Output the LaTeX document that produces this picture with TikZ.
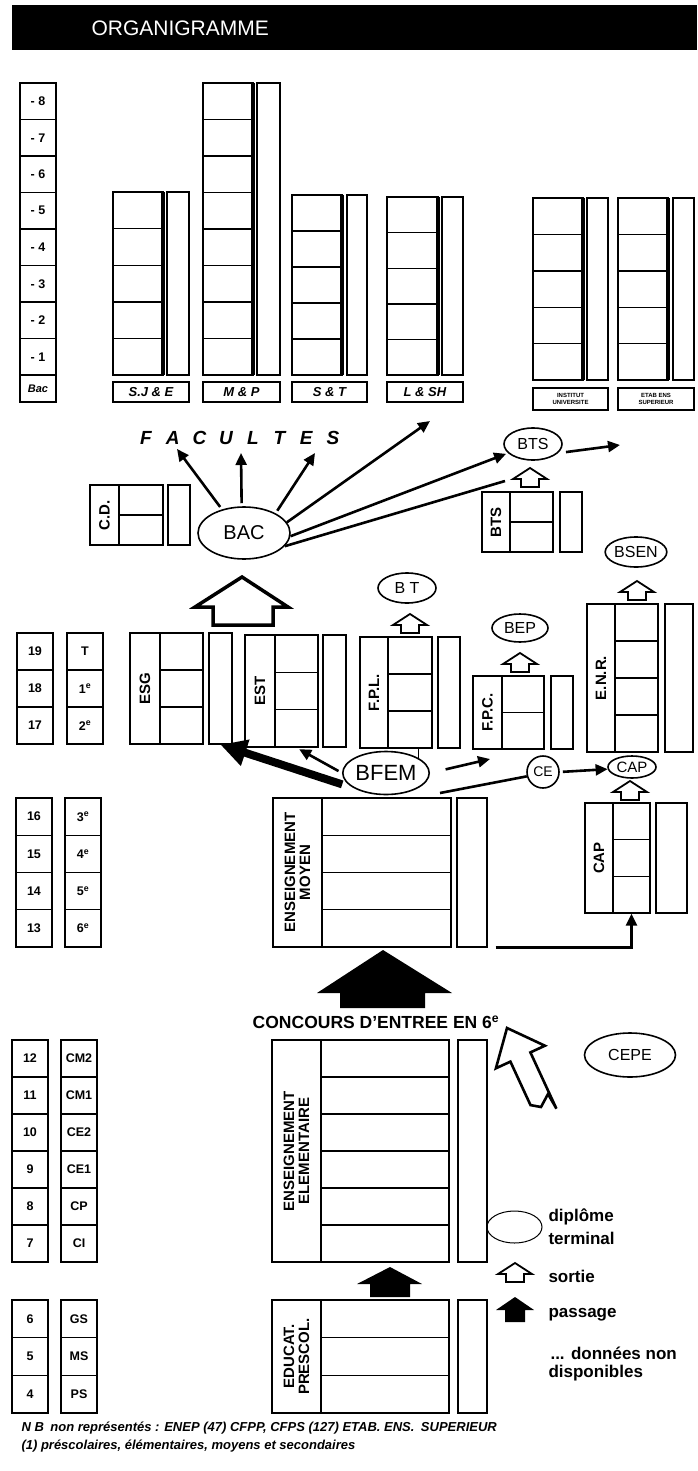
\documentclass[tikz,border=0pt]{standalone}
\usepackage{fontspec}
\setmainfont{Liberation Sans}
\usetikzlibrary{positioning,arrows.meta,shapes.geometric,fit}

\tikzset{
  box/.style={draw, line width=1.4pt, inner sep=0pt},
  dipl/.style={draw, ellipse, line width=1.6pt, inner sep=0pt},
  lab/.style={rotate=90, align=center, font=\bfseries\fontsize{15}{15}\selectfont},
  num/.style={font=\bfseries\fontsize{12.5}{12.5}\selectfont},
  arr/.style={line width=2.6pt, -{Triangle[length=12pt,width=11pt]}},
  sortie/.style={line width=1.8pt, fill=white},
  legend/.style={anchor=west, font=\bfseries\fontsize{17}{17}\selectfont},
}

\begin{document}
\begin{tikzpicture}[x=1pt,y=-1pt]
\useasboundingbox (0,0) rectangle (697,1471);

% Title bar
\fill (12,5) rectangle (697,50);
\node[anchor=west, text=white, font=\fontsize{21}{21}\selectfont] (title) at (88,28) {ORGANIGRAMME};

% Year columns on the left
\foreach \nm/\cx/\top/\h/\labs in {
    sup/38/83/36.5/{- 8,- 7,- 6,- 5,- 4,- 3,- 2,- 1},
    ly/35/633/37/{19,18,17},
    lc/85/633/37/{T,1\textsuperscript{e},2\textsuperscript{e}},
    my/34/798/37.25/{16,15,14,13},
    mc/83/798/37.25/{3\textsuperscript{e},4\textsuperscript{e},5\textsuperscript{e},6\textsuperscript{e}},
    ey/30/1040/37/{12,11,10,9,8,7},
    ec/79/1040/37/{CM2,CM1,CE2,CE1,CP,CI},
    py/30/1300/37.7/{6,5,4},
    pc/79/1300/37.7/{GS,MS,PS}}
  \foreach \t [count=\i] in \labs
    \node[box, num, minimum width=36pt, minimum height=\h pt] (\nm\i) at (\cx,{\top+(\i-0.5)*\h}) {\t};
\node[box, font=\bfseries\itshape\fontsize{11}{11}\selectfont, minimum width=36pt, minimum height=27pt] (supbac) at (38,388.5) {Bac};

% Faculties
\foreach \nm/\xa/\xb/\xc/\xd/\ya/\n/\txt in {sje/113/163/167/189/192/5/S.J \& E, mp/203/253/257/280/83/8/M \& P,
    st/292/342/347/367/195/5/S \& T, lsh/387/438/442/463/197/5/L \& SH} {
  \node[box, fit={(\xa,\ya) (\xb,375)}] (\nm) {};
  \node[box, fit={(\xc,\ya) (\xd,375)}] (\nm bar) {};
  \draw[line width=3.5pt] (\xb,\ya) -- (\xb,375);
  \foreach \k in {1,...,\n}
    \draw[line width=1.4pt] (\xa,{\ya+\k*(375-\ya)/\n}) -- (\xb,{\ya+\k*(375-\ya)/\n});
  \node[box, fit={(\xa,382) (\xd,402)}] (\nm lab) {};
  \node[font=\bfseries\itshape\fontsize{13}{13}\selectfont] (\nm txt) at (\nm lab) {\txt};
}
\foreach \nm/\xa/\xb/\xc/\xd/\txt in {iu/533/583/587/608/{INSTITUT\\UNIVERSITE}, ees/618/668/673/694/{ETAB ENS\\SUPERIEUR}} {
  \node[box, fit={(\xa,198) (\xb,380)}] (\nm) {};
  \node[box, fit={(\xc,198) (\xd,380)}] (\nm bar) {};
  \draw[line width=3.5pt] (\xb,198) -- (\xb,380);
  \foreach \k in {1,...,5}
    \draw[line width=1.4pt] (\xa,{198+\k*182/5}) -- (\xb,{198+\k*182/5});
  \node[box, fit={(\xa,388) (\xd,410)}] (\nm lab) {};
  \node[align=center, font=\bfseries\fontsize{6}{7}\selectfont] (\nm txt) at (\nm lab) {\txt};
}
\foreach \l [count=\i] in {F,A,C,U,L,T,E,S}
  \node[font=\bfseries\itshape\fontsize{19}{19}\selectfont] (fac\i) at ({146+(\i-1)*26.7},438) {\l};

% Blocks with a side label
\foreach \nm/\xl/\xa/\xb/\xc/\xd/\ya/\yb/\n/\txt in {
    cd/90/119/163/168/190/485/545/2/C.D.,
    btsb/482/510/553/560/582/492/552/2/BTS,
    esg/130/160/203/209/232/633/744/3/ESG,
    est/245/275/318/323/346/635/747/3/EST,
    fpl/360/388/432/438/460/637/748/3/F.P.L.,
    fpc/473/502/544/551/573/676/749/2/F.P.C.,
    enr/587/615/658/665/693/604/752/4/E.N.R.,
    capb/585/613/650/656/687/803/913/3/CAP,
    moy/273/322/451/457/487/798/947/4/{ENSEIGNEMENT\\MOYEN},
    ele/272/321/449/458/487/1040/1262/6/{ENSEIGNEMENT\\ELEMENTAIRE},
    pre/272/321/449/458/487/1300/1413/3/{EDUCAT.\\PRESCOL.}} {
  \node[box, fit={(\xl,\ya) (\xa,\yb)}] (\nm l) {};
  \node[box, fit={(\xa,\ya) (\xb,\yb)}] (\nm c) {};
  \node[box, fit={(\xc,\ya) (\xd,\yb)}] (\nm r) {};
  \foreach \k in {1,...,\n}
    \draw[line width=1.4pt] (\xa,{\ya+\k*(\yb-\ya)/\n}) -- (\xb,{\ya+\k*(\yb-\ya)/\n});
  \node[lab] (\nm t) at (\nm l) {\txt};
}

% Diplomas
\node[dipl, minimum width=92pt, minimum height=52pt, font=\fontsize{20}{20}\selectfont] (bac) at (244,533) {BAC};
\node[dipl, minimum width=58pt, minimum height=32pt, font=\fontsize{16}{16}\selectfont] (bts) at (533,444) {BTS};
\node[dipl, minimum width=57pt, minimum height=30pt, font=\fontsize{16}{16}\selectfont] (bsen) at (636,552) {BSEN};
\node[dipl, minimum width=58pt, minimum height=30pt, font=\fontsize{16}{16}\selectfont] (bt) at (407,588) {B T};
\node[dipl, minimum width=56pt, minimum height=28pt, font=\fontsize{16}{16}\selectfont] (bep) at (520,628) {BEP};
\node[dipl, minimum width=78pt, minimum height=43pt, font=\fontsize{22}{22}\selectfont] (bfem) at (386,773) {BFEM};
\node[dipl, circle, minimum size=32pt, font=\fontsize{14}{14}\selectfont] (ce) at (543,772) {CE};
\node[dipl, minimum width=48pt, minimum height=22pt, font=\fontsize{15}{15}\selectfont] (cap) at (632,767) {CAP};
\node[dipl, minimum width=91pt, minimum height=44pt, font=\fontsize{16}{16}\selectfont] (cepe) at (630,1055) {CEPE};

% Free ends
\coordinate (fA) at (177,449);
\coordinate (fU) at (241,453);
\coordinate (fS) at (315,453);
\coordinate (lshend) at (430,421);
\coordinate (btsend) at (505,481);
\coordinate (esup) at (620,445);
\coordinate (fpcin) at (490,759);
\coordinate (cefoot) at (440,793);

% Connectors
\draw[arr, shorten <=3pt] (bac.133) -- (fA);
\draw[arr, shorten <=3pt] (bac.95) -- (fU);
\draw[arr, shorten <=3pt] (bac.32) -- (fS);
\draw[arr] (bac.14) -- (lshend);
\draw[arr, shorten >=2pt] (bac.-4) -- (bts.200);
\draw[line width=2.6pt] (bac.-18) -- (btsend);
\draw[arr, shorten <=8pt] (bts.-20) -- (esup);
\draw[line width=8pt, -{Triangle[length=26pt,width=26pt]}, shorten <=12pt] (bfem.205) -- (esgr.south);
\draw[arr, shorten <=4pt, shorten >=3pt] (bfem.west) -- (estc.south);
\draw[arr, shorten <=16pt] (bfem.east) -- (fpcin);
\draw[line width=1.6pt] (bfem.25 |- fplc.south) -- (bfem.25);
\draw[line width=2.6pt] (cefoot) -- (ce.195);
\draw[arr, shorten <=3pt] (ce.east) -- (cap.185);
\draw[arr] ([xshift=8pt]moyr.south east) -| (capbc.south);

% Sortie arrows
\foreach \x/\y in {530/487, 637/600, 410/633, 520/672, 630/800, 515/1282}
  \draw[sortie] (\x,\y) ++(-9,0) -- ++(0,-8) -- ++(-8,0) -- ++(17,-11) -- ++(17,11) -- ++(-8,0) -- ++(0,8) -- cycle;

% Passage arrows
\draw[line width=3.5pt, fill=white, line join=miter] (242,577) -- (288,607) -- (273,607) -- (273,625) -- (213,625) -- (213,607) -- (195,607) -- cycle;
\fill (383,950) -- (452,993) -- (425,993) -- (425,1008) -- (340,1008) -- (340,993) -- (317,993) -- cycle;
\fill (390,1267) -- (422,1284) -- (410,1284) -- (410,1297) -- (370,1297) -- (370,1284) -- (357,1284) -- cycle;
\fill (515,1297) -- (534,1310) -- (525,1310) -- (525,1322) -- (505,1322) -- (505,1310) -- (496,1310) -- cycle;
\draw[line width=2.6pt, line join=miter] (507,1028) -- (544.9,1045.7) -- (530.4,1052.4) -- (556.4,1108.6) -- (548,1094) -- (541,1107) -- (530.5,1105.1) -- (510.4,1061.6) -- (495.9,1068.3) -- cycle;

% Texts
\node[font=\bfseries\fontsize{17.5}{17.5}\selectfont] (concours) at (376,1022) {CONCOURS D'ENTREE EN 6\textsuperscript{e}};
\node[draw, ellipse, line width=1pt, minimum width=55pt, minimum height=32pt] (legdip) at (514.5,1227) {};
\node[legend] (legd1) at (545,1217) {diplôme};
\node[legend] (legd2) at (545,1238) {terminal};
\node[legend] (legs) at (545,1276) {sortie};
\node[legend] (legp) at (545,1315) {passage};
\node[legend] (legn1) at (547,1353) {... données non};
\node[legend] (legn2) at (545,1373) {disponibles};
\node[anchor=west, font=\bfseries\itshape\fontsize{13}{13}\selectfont] (nb1) at (18,1428) {N B\enspace non représentés : ENEP (47) CFPP, CFPS (127) ETAB. ENS.\enspace SUPERIEUR};
\node[anchor=west, font=\bfseries\itshape\fontsize{13}{13}\selectfont] (nb2) at (18,1446) {(1) préscolaires, élémentaires, moyens et secondaires};
\end{tikzpicture}
\end{document}
